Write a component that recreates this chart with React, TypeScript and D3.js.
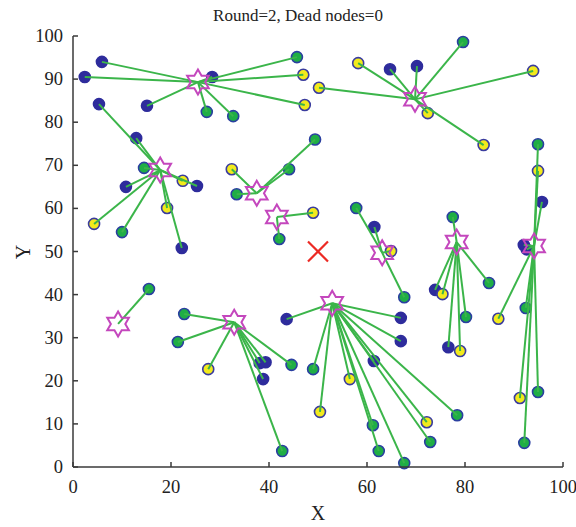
import React from "react";
import * as d3 from "d3";

// Cluster heads (stars)
const headX = [25.5, 69.8, 17.8, 37.5, 41.6, 63.1, 78.3, 94.1, 52.9, 32.9, 9.2];
const headY = [89.3, 85.3, 68.9, 63.5, 58.0, 49.7, 52.2, 51.3, 38.0, 33.6, 33.2];

// Member nodes: x, y, type (b = blue, g = green, y = yellow), head index
const nodeX = [
  5.9, 2.4, 15.1, 28.4, 27.3, 32.7, 45.7, 47.0, 47.3,
  50.2, 58.2, 64.7, 70.2, 79.6, 93.9, 72.4, 83.8,
  5.3, 12.9, 14.5, 22.4, 25.3, 10.8, 19.2, 4.3, 10.0, 22.2,
  32.4, 33.4, 44.1, 49.4,
  49.0, 42.1,
  57.8, 61.5, 64.9, 67.6,
  77.5, 73.9, 75.4, 84.9, 80.2, 76.6, 79.0,
  94.9, 94.9, 95.7, 92.0, 92.6, 86.8, 92.4, 91.2, 94.9, 92.1,
  43.6, 49.0, 50.4, 56.5, 61.4, 61.2, 62.4, 67.6, 72.2, 72.9, 78.4, 66.9, 66.9,
  22.7, 21.4, 27.6, 38.1, 39.3, 38.8, 44.6, 42.7,
  15.5,
];
const nodeY = [
  94.0, 90.5, 83.8, 90.5, 82.4, 81.4, 95.1, 91.0, 84.0,
  88.0, 93.7, 92.3, 93.0, 98.6, 91.9, 82.1, 74.7,
  84.2, 76.3, 69.4, 66.4, 65.2, 65.0, 60.1, 56.4, 54.5, 50.8,
  69.1, 63.3, 69.1, 76.0,
  59.0, 52.9,
  60.1, 55.7, 50.1, 39.4,
  58.0, 41.1, 40.1, 42.7, 34.8, 27.8, 26.9,
  74.9, 68.7, 61.5, 51.5, 50.5, 34.4, 36.9, 16.0, 17.4, 5.6,
  34.3, 22.7, 12.8, 20.4, 24.6, 9.7, 3.7, 0.9, 10.4, 5.8, 12.0, 34.6, 29.2,
  35.5, 29.0, 22.7, 24.1, 24.3, 20.4, 23.7, 3.7,
  41.3,
];
const nodeType = [
  "b", "b", "b", "b", "g", "g", "g", "y", "y",
  "y", "y", "b", "b", "g", "y", "y", "y",
  "b", "b", "g", "y", "b", "b", "y", "y", "g", "b",
  "y", "g", "g", "g",
  "y", "g",
  "g", "b", "y", "g",
  "g", "b", "y", "g", "g", "b", "y",
  "g", "y", "b", "b", "b", "y", "g", "y", "g", "g",
  "b", "g", "y", "y", "b", "g", "g", "g", "y", "g", "g", "b", "b",
  "g", "g", "y", "b", "b", "b", "g", "g",
  "g",
];
const nodeHead = [
  0, 0, 0, 0, 0, 0, 0, 0, 0,
  1, 1, 1, 1, 1, 1, 1, 1,
  2, 2, 2, 2, 2, 2, 2, 2, 2, 2,
  3, 3, 3, 3,
  4, 4,
  5, 5, 5, 5,
  6, 6, 6, 6, 6, 6, 6,
  7, 7, 7, 7, 7, 7, 7, 7, 7, 7,
  8, 8, 8, 8, 8, 8, 8, 8, 8, 8, 8, 8, 8,
  9, 9, 9, 9, 9, 9, 9, 9,
  10,
];
const xTicks = [0, 20, 40, 60, 80, 100];
const yTicks = [0, 10, 20, 30, 40, 50, 60, 70, 80, 90, 100];
const title = "Round=2, Dead nodes=0";
const sink = [50, 50];

const W = 576;
const H = 527;
const FONT = "'Liberation Serif', 'DejaVu Serif', serif";

function hexagram(cx: number, cy: number, R: number) {
  const r = R / Math.sqrt(3);
  const pts: [number, number][] = [];
  for (let i = 0; i < 12; i++) {
    const a = -Math.PI / 2 + (i * Math.PI) / 6;
    const rr = i % 2 === 0 ? R : r;
    pts.push([cx + rr * Math.cos(a), cy + rr * Math.sin(a)]);
  }
  return d3.line()(pts) + "Z";
}

export default function App() {
  const x = d3.scaleLinear().domain([0, 100]).range([73, 563]);
  const y = d3.scaleLinear().domain([0, 100]).range([467, 36]);
  const fill: Record<string, string> = { b: "#2e2c9c", g: "#1fae45", y: "#f2ea1c" };
  const edge: Record<string, string> = { b: "#2e2c9c", g: "#2a3fa0", y: "#3a3c9e" };
  const nodes = nodeX.map((v, i) => ({ x: v, y: nodeY[i], t: nodeType[i], h: nodeHead[i] }));

  return (
    <svg width={W} height={H} style={{ position: "absolute", left: 0, top: 0, background: "#fff" }}>
      {/* nodes */}
      {nodes.map((n, i) => (
        <circle key={"n" + i} cx={x(n.x)} cy={y(n.y)} r={5.5} fill={fill[n.t]} stroke={edge[n.t]} strokeWidth={1.6} />
      ))}
      {/* links */}
      {nodes.map((n, i) => (
        <line key={"l" + i} x1={x(n.x)} y1={y(n.y)} x2={x(headX[n.h])} y2={y(headY[n.h])} stroke="#3bb54a" strokeWidth={2} />
      ))}
      {/* heads */}
      {headX.map((hx, i) => (
        <path key={"h" + i} d={hexagram(x(hx), y(headY[i]), 12.5)} fill="none" stroke="#c447bd" strokeWidth={2} strokeLinejoin="miter" />
      ))}
      {/* sink */}
      <g stroke="#ec2a24" strokeWidth={2.2}>
        <line x1={x(sink[0]) - 10} y1={y(sink[1]) - 10} x2={x(sink[0]) + 10} y2={y(sink[1]) + 10} />
        <line x1={x(sink[0]) - 10} y1={y(sink[1]) + 10} x2={x(sink[0]) + 10} y2={y(sink[1]) - 10} />
      </g>
      {/* axes */}
      <g stroke="#3a3a3a" strokeWidth={1.5} fill="none">
        <line x1={x(0)} y1={y(0)} x2={x(100)} y2={y(0)} />
        <line x1={x(0)} y1={y(0)} x2={x(0)} y2={y(100)} />
        {xTicks.map((t) => (
          <line key={"xt" + t} x1={x(t)} y1={y(0)} x2={x(t)} y2={y(0) - 5} />
        ))}
        {yTicks.map((t) => (
          <line key={"yt" + t} x1={x(0)} y1={y(t)} x2={x(0) + 5} y2={y(t)} />
        ))}
      </g>
      <g fontFamily={FONT} fontSize={18.5} fill="#222">
        {xTicks.map((t) => (
          <text key={"xl" + t} x={x(t)} y={y(0) + 26} textAnchor="middle">{t}</text>
        ))}
        {yTicks.map((t) => (
          <text key={"yl" + t} x={x(0) - 10} y={y(t) + 6} textAnchor="end">{t}</text>
        ))}
        <text x={318} y={520} textAnchor="middle" fontSize={20}>X</text>
        <text transform="translate(30,252) rotate(-90)" textAnchor="middle" fontSize={20}>Y</text>
        <text x={298} y={21} textAnchor="middle" fontSize={17}>{title}</text>
      </g>
    </svg>
  );
}
